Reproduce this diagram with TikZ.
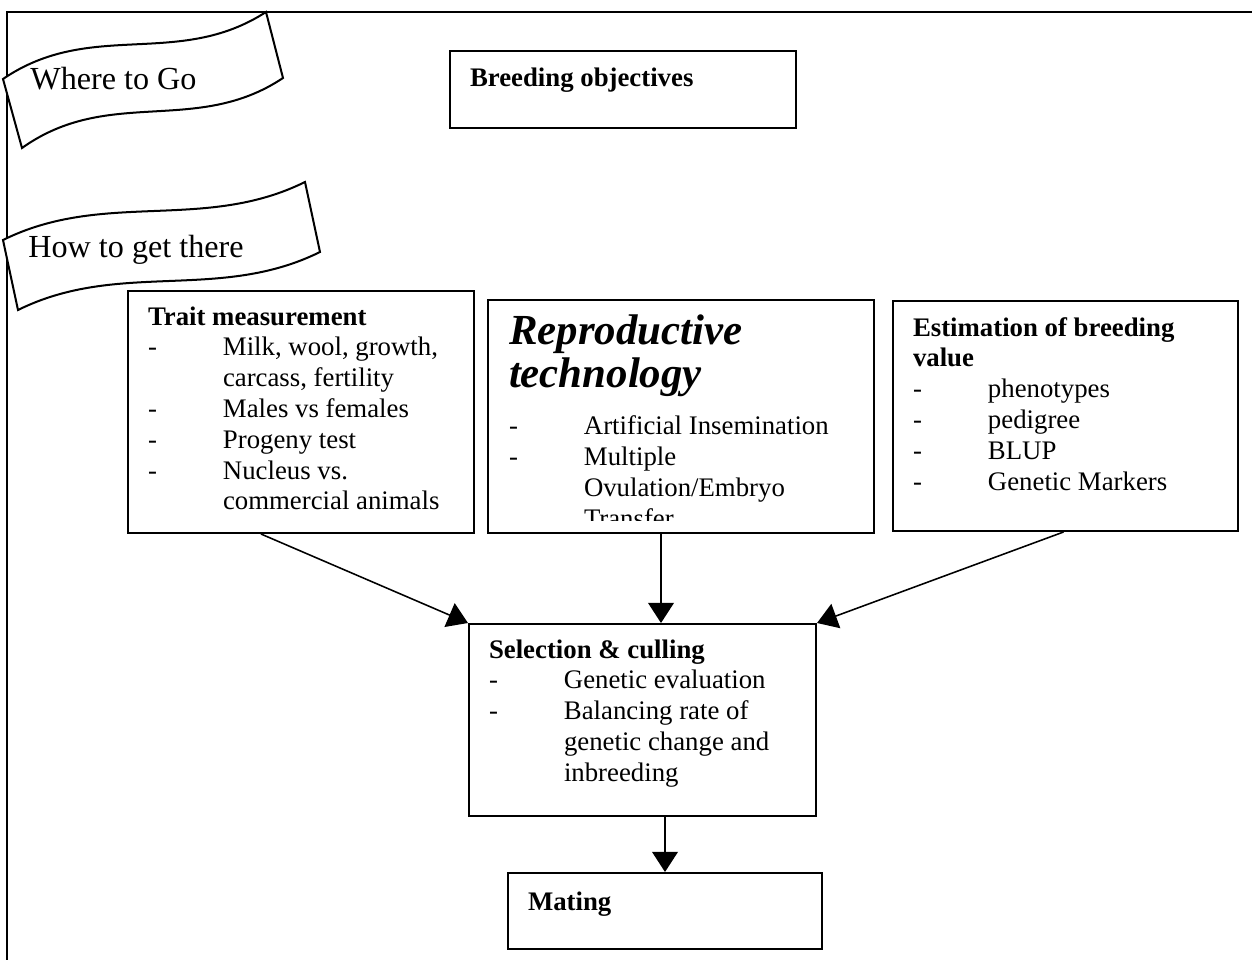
\documentclass[tikz,border=0pt]{standalone}
\usepackage{fontspec}
\setmainfont{Liberation Serif}
\usetikzlibrary{arrows.meta}

\newdimen\px \px=0.448pt
\newcommand{\dashitem}[1]{\par\hangindent=75\px\hangafter=1\makebox[75\px][l]{-}#1}
\newcommand{\boxtext}[4]{\parbox[c][#2][t]{#1}{\raggedright\fontsize{12}{13.8}\selectfont\rule{0pt}{#3}#4}}

\begin{document}
\begin{tikzpicture}[x=0.448pt,y=-0.448pt,
    box/.style={draw,line width=0.9pt,anchor=north west,inner xsep=20\px,inner ysep=0pt},
    banner/.style={draw,fill=white,line width=0.9pt},
    tag/.style={anchor=base west,inner sep=0pt,font=\fontsize{14.4}{17}\selectfont},
    arr/.style={-{Triangle[length=9pt,width=11.5pt]},line width=0.7pt}]
    \useasboundingbox (0,0) rectangle (1252,960);
    \draw[line width=0.9pt] (7,960) -- (7,12) -- (1252,12);

    % banners
    \draw[banner] (3,79) .. controls (91,19) and (178,69) .. (266,12) -- (283,78)
        .. controls (196,136) and (109,86) .. (22,148) -- cycle;
    \node[tag] (wherego) at (30,90) {Where to Go};
    \draw[banner] (3,240) .. controls (104,190) and (204,232) .. (305,182) -- (320,252)
        .. controls (219,302) and (119,260) .. (18,310) -- cycle;
    \node[tag] (howto) at (28,257) {How to get there};

    % boxes
    \node[box] (obj) at (449,50) {\boxtext{306\px}{77\px}{35\px}{\textbf{Breeding objectives}}};
    \node[box] (trait) at (127,290) {\boxtext{306\px}{242\px}{34\px}{\textbf{Trait measurement}
        \dashitem{Milk, wool, growth,\newline carcass, fertility}
        \dashitem{Males vs females}
        \dashitem{Progeny test}
        \dashitem{Nucleus vs.\newline commercial animals}}};
    \begin{scope}
        \clip (480,290) rectangle (880,520);
        \node[box,draw=none] (repro) at (488,300) {\boxtext{344\px}{231\px}{43\px}{%
            {\fontsize{19.2}{19.7}\selectfont\bfseries\itshape Reproductive\newline technology\par}\vspace{16\px}
            \dashitem{Artificial Insemination}
            \dashitem{Multiple\newline Ovulation/Embryo\newline Transfer}}};
    \end{scope}
    \draw[line width=0.9pt] (repro.north west) rectangle (repro.south east);
    \node[box] (est) at (892,300) {\boxtext{305\px}{230\px}{35\px}{\textbf{Estimation of breeding\newline value}
        \dashitem{phenotypes}
        \dashitem{pedigree}
        \dashitem{BLUP}
        \dashitem{Genetic Markers}}};
    \node[box] (sel) at (468,623) {\boxtext{307\px}{192\px}{34\px}{\textbf{Selection \& culling}
        \dashitem{Genetic evaluation}
        \dashitem{Balancing rate of\newline genetic change and\newline inbreeding}}};
    \node[box] (mate) at (507,872) {\boxtext{274\px}{76\px}{37\px}{\textbf{Mating}}};

    \coordinate (rs) at ([xshift=-20\px]repro.south);
    \path[arr]
        ([xshift=-40\px]trait.south) edge (sel.north west)
        (rs) edge (rs |- sel.north)
        ([xshift=-2\px]est.south) edge (sel.north east)
        (sel.south -| mate.north) edge (mate.north);
\end{tikzpicture}
\end{document}
